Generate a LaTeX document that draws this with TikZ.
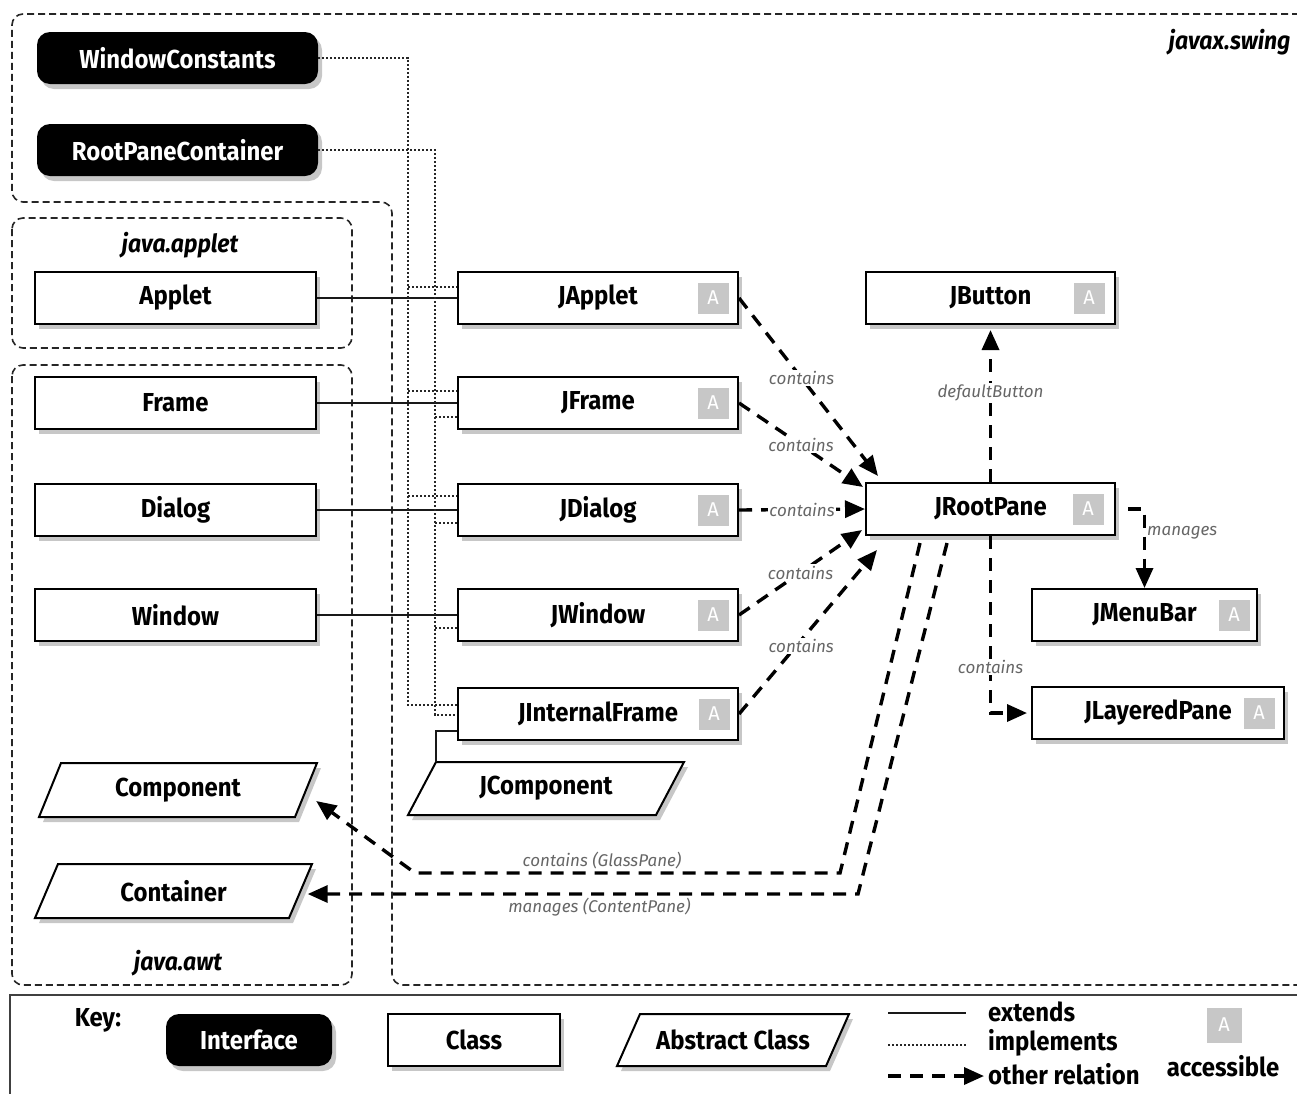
\documentclass[tikz,border=0pt]{standalone}
\usepackage{fontspec}
\setmainfont{Fira Sans}
\newfontfamily\cfont[FakeStretch=0.92]{Fira Sans}
\usetikzlibrary{arrows.meta,shadows,calc}
\newcommand\nfont{\fontsize{26}{30}\selectfont\cfont\bfseries}
\newcommand\lfont{\fontsize{17}{20}\selectfont\itshape}
\newcommand\pfont{\fontsize{25}{29}\selectfont\cfont\bfseries\itshape}
\newcommand\afont{\fontsize{20}{22}\selectfont}
\tikzset{
 shad/.style={drop shadow={shadow xshift=4pt,shadow yshift=-5pt,opacity=0.22,fill=black}},
 iface/.style={shad,fill=black,rounded corners=13pt,text=white,font=\nfont,minimum height=52pt,minimum width=281pt,inner sep=0pt},
 cls/.style={shad,draw=black,line width=2pt,fill=white,font=\nfont,minimum height=52pt,inner sep=0pt},
 pgramline/.style={shad,draw=black,line width=2pt,fill=white},
 pgtext/.style={font=\nfont,minimum height=52pt,inner sep=0pt},
 badge/.style={fill=black!22,text=white,font=\afont,minimum size=31pt,inner sep=0pt},
 pkg/.style={draw=black!85,line width=1.6pt,dash pattern=on 7pt off 4pt,rounded corners=11pt},
 ext/.style={draw=black!90,line width=1.8pt},
 impl/.style={draw=black!85,line width=1.6pt,dash pattern=on 2pt off 2pt},
 rel/.style={draw=black,line width=3.4pt,dash pattern=on 13pt off 9pt,-{Triangle[length=20pt,width=17pt]}},
 lbl/.style={font=\lfont,text=black!60,fill=white,inner sep=1.5pt},
 lblp/.style={font=\lfont,text=black!60,inner sep=1pt},
 pkglbl/.style={font=\pfont},
 keytxt/.style={font=\nfont,anchor=west,inner sep=0pt},
 keybox/.style={draw=black!75,line width=1.8pt},
}
\newcommand\mypgram[7]{%
 \path[pgramline] ({#2-#4/2},{#3+#5/2}) -- ({#2-#4/2+#6},{#3-#5/2}) -- ({#2+#4/2},{#3-#5/2}) -- ({#2+#4/2-#6},{#3+#5/2}) -- cycle;
 \node[pgtext,minimum width={(#4-#6)*1pt}] (#1) at (#2,#3) {#7};}
\begin{document}
\begin{tikzpicture}[x=1pt,y=-1pt]
\useasboundingbox[fill=white] (0,0) rectangle (1297,1093);
% packages
\draw[pkg] (1310,14) -- (12,14) -- (12,202) -- (392,202) -- (392,985) -- (1310,985);
\draw[pkg] (12,218) rectangle (352,348);
\draw[pkg] (12,365) rectangle (352,985);
\node[pkglbl] (lapplet) at (180,245) {java.applet};
\node[pkglbl] (lawt) at (178,963) {java.awt};
\node[pkglbl,anchor=east] (lswing) at (1294,42) {javax.swing};
% interfaces
\node[iface] (WC) at (177.5,58) {WindowConstants};
\node[iface] (RPC) at (177.5,150) {RootPaneContainer};
% awt / applet classes
\node[cls,minimum width=281pt] (Applet) at (175.5,298) {Applet};
\node[cls,minimum width=281pt] (Frame) at (175.5,403) {Frame};
\node[cls,minimum width=281pt] (Dialog) at (175.5,510) {Dialog};
\node[cls,minimum width=281pt] (Window) at (175.5,615) {Window};
\mypgram{Component}{178}{790}{278}{54}{22}{Component}
\mypgram{Container}{173.5}{891}{277}{54}{23}{Container}
% swing classes
\node[cls,minimum width=280pt] (JApplet) at (598,298) {JApplet};
\node[cls,minimum width=280pt] (JFrame) at (598,403) {JFrame};
\node[cls,minimum width=280pt] (JDialog) at (598,510) {JDialog};
\node[cls,minimum width=280pt] (JWindow) at (598,615) {JWindow};
\node[cls,minimum width=280pt] (JIF) at (598,714) {JInternalFrame};
\mypgram{JComp}{546}{788.5}{276}{53}{28}{JComponent}
\node[cls,minimum width=249pt] (JButton) at (990.5,298) {JButton};
\node[cls,minimum width=249pt] (JRootPane) at (990.5,509) {JRootPane};
\node[cls,minimum width=225pt] (JMenuBar) at (1144.5,615) {JMenuBar};
\node[cls,minimum width=252pt] (JLayeredPane) at (1158,713) {JLayeredPane};
% accessible badges
\node[badge] (aJApplet) at ($(JApplet.east)+(-26,0)$) {A};
\node[badge] (aJFrame) at ($(JFrame.east)+(-26,0)$) {A};
\node[badge] (aJDialog) at ($(JDialog.east)+(-26,0)$) {A};
\node[badge] (aJWindow) at ($(JWindow.east)+(-26,0)$) {A};
\node[badge] (aJIF) at ($(JIF.east)+(-25,0)$) {A};
\node[badge] (aJButton) at ($(JButton.east)+(-27,0)$) {A};
\node[badge] (aJRootPane) at ($(JRootPane.east)+(-28,0)$) {A};
\node[badge] (aJMenuBar) at ($(JMenuBar.east)+(-24,0)$) {A};
\node[badge] (aJLayeredPane) at ($(JLayeredPane.east)+(-26,0)$) {A};
% extends
\draw[ext] (Applet.east) -- (JApplet.west);
\draw[ext] (Frame.east) -- (JFrame.west);
\draw[ext] (Dialog.east) -- (JDialog.west);
\draw[ext] (Window.east) -- (JWindow.west);
\draw[ext] ($(JIF.south west)+(0,-10)$) -| ($(JComp.north)+(-110,0)$);
% implements
\coordinate (wcx) at (408,0);
\coordinate (rpx) at (435,0);
\coordinate (iJA) at ($(JApplet.west)+(0,-11)$);
\coordinate (iJF1) at ($(JFrame.west)+(0,-12)$);
\coordinate (iJF2) at ($(JFrame.west)+(0,14)$);
\coordinate (iJD1) at ($(JDialog.west)+(0,-14)$);
\coordinate (iJD2) at ($(JDialog.west)+(0,13)$);
\coordinate (iJW) at ($(JWindow.west)+(0,13)$);
\coordinate (iJI1) at ($(JIF.west)+(0,-9)$);
\coordinate (iJI2) at ($(JIF.west)+(0,1)$);
\draw[impl] (WC.east) -| (wcx |- iJI1) -- (iJI1);
\draw[impl] (RPC.east) -| (rpx |- iJI2) -- (iJI2);
\foreach \c in {iJA,iJF1,iJD1} \draw[impl] (wcx |- \c) -- (\c);
\foreach \c in {iJF2,iJD2,iJW} \draw[impl] (rpx |- \c) -- (\c);
% other relations
\draw[rel] (JApplet.east) -- node[lbl,pos=.45]{contains} ($(JRootPane.north west)+(13,-6)$);
\draw[rel] (JFrame.east) -- node[lbl,pos=.5]{contains} ($(JRootPane.north west)+(-2,5)$);
\draw[rel] (JDialog.east) -- node[lbl,pos=.5]{contains} (JRootPane.west);
\draw[rel] (JWindow.east) -- node[lbl,pos=.5]{contains} ($(JRootPane.south west)+(-3,-6)$);
\draw[rel] (JIF.east) -- node[lbl,pos=.45,yshift=-6pt]{contains} ($(JRootPane.south west)+(12,14)$);
\draw[rel,shorten >=5pt] (JRootPane.north) -- node[lbl,pos=.57]{defaultButton} (JButton.south);
\draw[rel,shorten <=12pt] (JRootPane.east) -| node[lblp,pos=.65,anchor=west]{manages} (JMenuBar.north);
\draw[rel,shorten >=4pt] (JRootPane.south) |- node[lbl,pos=.37]{contains} (JLayeredPane.west);
\draw[rel] ($(JRootPane.south west)+(55,7)$) -- (840,873) -- node[lblp,above=1pt,pos=.56]{contains (GlassPane)} (415,873) -- ($(Component.east)+(10,11)$);
\draw[rel] ($(JRootPane.south west)+(82,7)$) -- (858,894) -- node[lblp,below=1pt,pos=.47]{manages (ContentPane)} ($(Container.east)+(7,3)$);
% key
\draw[keybox] (10,995) rectangle (1310,1120);
\node[font=\nfont] (key) at (98,1020) {Key:};
\node[iface,minimum width=166pt] (kI) at (249,1040) {Interface};
\node[cls,minimum width=172pt] (kC) at (474,1040) {Class};
\mypgram{kA}{733}{1040}{232}{52}{23}{Abstract Class}
\coordinate (ke1) at (888,1013); \coordinate (ke2) at (966,1013);
\coordinate (ki1) at (888,1045); \coordinate (ki2) at (966,1045);
\coordinate (kr1) at (888,1076); \coordinate (kr2) at (984,1076);
\draw[ext] (ke1) -- (ke2);
\draw[impl] (ki1) -- (ki2);
\draw[rel] (kr1) -- (kr2);
\node[keytxt] (kext) at (988,1012) {extends};
\node[keytxt] (kimp) at (988,1043) {implements};
\node[keytxt] (kother) at (988,1074) {other relation};
\node[badge,minimum size=35pt] (kbadge) at (1224,1025) {A};
\node[font=\nfont] (kacc) at (1223,1066) {accessible};
\end{tikzpicture}
\end{document}
